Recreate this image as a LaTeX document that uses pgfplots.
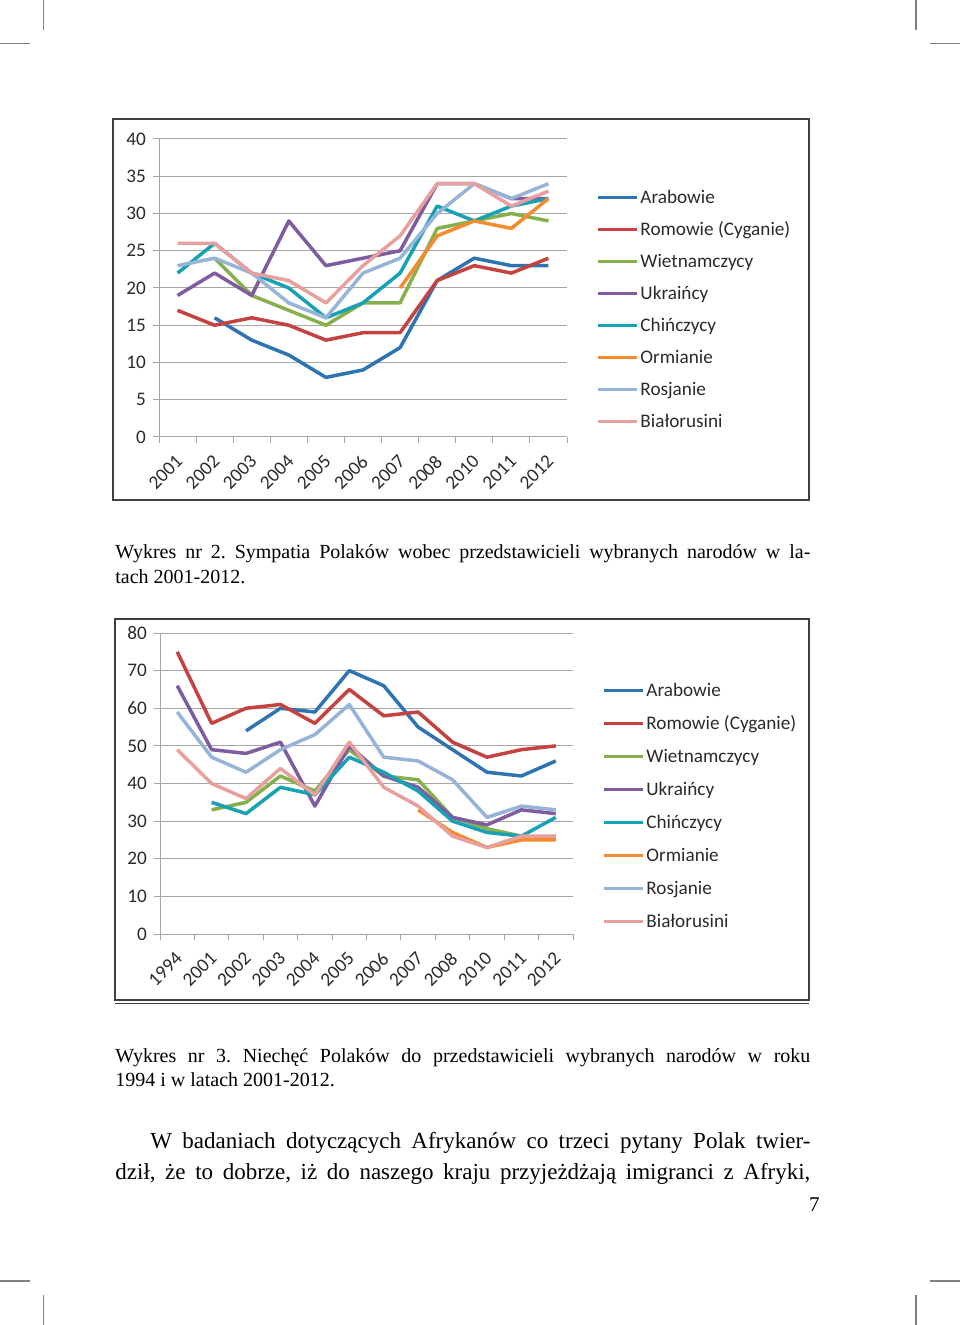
\documentclass[border=0pt]{standalone}
\usepackage{fontspec}
\setmainfont{Liberation Serif}
\newfontfamily\chartfont{Carlito}
\usepackage{pgfplots}
\pgfplotsset{compat=1.18}
\definecolor{cArab}{HTML}{2E74B2}
\definecolor{cRom}{HTML}{C4423F}
\definecolor{cWiet}{HTML}{86B04B}
\definecolor{cUkr}{HTML}{7F5B9F}
\definecolor{cChin}{HTML}{18A0B4}
\definecolor{cOrm}{HTML}{F48B2F}
\definecolor{cRos}{HTML}{95B4D8}
\definecolor{cBial}{HTML}{E8A09E}
\definecolor{gridgray}{HTML}{A6A6A6}
\definecolor{txt}{HTML}{2A2A2A}
\newcommand{\cf}{\chartfont\fontsize{9.6}{11}\selectfont\color{txt}}
\pgfplotsset{
  mychart/.style={
    scale only axis,
    axis x line*=bottom, axis y line*=left,
    axis line style={draw=gridgray, line width=0.5pt, -},
    tick align=outside, major tick length=3pt,
    tick style={draw=gridgray, line width=0.5pt},
    ymajorgrids, grid style={draw=gridgray, line width=0.5pt},
    ymin=0,
    x tick label as interval,
    xticklabel style={xshift=1.7pt, yshift=-7pt, rotate=45, anchor=east, font=\cf, inner sep=1pt},
    yticklabel style={font=\cf},
    /pgf/number format/assume math mode=true,
    every axis plot/.append style={line width=1.75pt, no markers, line join=round},
    legend style={draw=none, fill=none, inner sep=0pt, font=\cf,
      nodes={inner sep=0pt, anchor=west, text height=11pt, text depth=5pt}},
    legend cell align=left,
    legend image code/.code={\draw[##1, line width=1.75pt] (0pt,0pt) -- (19.5pt,0pt); \path (20.3pt,0pt);},
  }
}
\begin{document}
\frenchspacing
\begin{tikzpicture}
\begin{scope}[x=0.5pt,y=-0.5pt]
\useasboundingbox (0,0) rectangle (960,1325);
% crop marks
\draw[gray, line width=0.7pt] (43.5,0) -- (43.5,30) (0,43.5) -- (30,43.5)
  (916,0) -- (916,30) (930,43.5) -- (960,43.5)
  (0,1281) -- (30,1281) (43.5,1295) -- (43.5,1325)
  (916,1295) -- (916,1325) (930,1281) -- (960,1281);
% frames
\draw[line width=1.3pt, black!75] (113,119) rectangle (809,500);
\draw[line width=0.9pt, black!75] (115,619) rectangle (809,1000);
\draw[line width=0.6pt, black!75] (115,1003.5) -- (809,1003.5);
% captions
\node[anchor=base west, inner sep=0pt] at (115,558) {\fontsize{10}{12}\selectfont\makebox[347.5pt][s]{Wykres nr 2. Sympatia Polaków wobec przedstawicieli wybranych narodów w la-}};
\node[anchor=base west, inner sep=0pt] at (115,583) {\fontsize{10}{12}\selectfont tach 2001-2012.};
\node[anchor=base west, inner sep=0pt] at (115,1062) {\fontsize{10}{12}\selectfont\makebox[347.5pt][s]{Wykres nr 3. Niechęć Polaków do przedstawicieli wybranych narodów w roku}};
\node[anchor=base west, inner sep=0pt] at (115,1086) {\fontsize{10}{12}\selectfont 1994 i w latach 2001-2012.};
\node[anchor=base west, inner sep=0pt] at (150,1148) {\fontsize{11.5}{14}\selectfont\makebox[330pt][s]{W badaniach dotyczących Afrykanów co trzeci pytany Polak twier-}};
\node[anchor=base west, inner sep=0pt] at (115,1179) {\fontsize{11.5}{14}\selectfont\makebox[347.5pt][s]{dził, że to dobrze, iż do naszego kraju przyjeżdżają imigranci z Afryki,}};
\node[anchor=base east, inner sep=0pt] at (820,1211) {\fontsize{10.5}{12}\selectfont 7};
\end{scope}

% chart 1
\begin{axis}[mychart, at={(79.5pt,-218.5pt)}, anchor=south west,
  width=204pt, height=149pt,
  xmin=-0.5, xmax=10.5, ymax=40, ytick={0,5,...,40},
  xtick={-0.5,0.5,...,10.5},
  xticklabels={2001,2002,2003,2004,2005,2006,2007,2008,2010,2011,2012},
  legend style={at={(1.071,0.859)}, anchor=north west}]
\addplot[cArab] coordinates {(1,16)(2,13)(3,11)(4,8)(5,9)(6,12)(7,21)(8,24)(9,23)(10,23)};
\addplot[cRom] coordinates {(0,17)(1,15)(2,16)(3,15)(4,13)(5,14)(6,14)(7,21)(8,23)(9,22)(10,24)};
\addplot[cWiet] coordinates {(1,24)(2,19)(3,17)(4,15)(5,18)(6,18)(7,28)(8,29)(9,30)(10,29)};
\addplot[cUkr] coordinates {(0,19)(1,22)(2,19)(3,29)(4,23)(5,24)(6,25)(7,34)(8,34)(9,32)(10,32)};
\addplot[cChin] coordinates {(0,22)(1,26)(2,22)(3,20)(4,16)(5,18)(6,22)(7,31)(8,29)(9,31)(10,32)};
\addplot[cOrm] coordinates {(6,20)(7,27)(8,29)(9,28)(10,32)};
\addplot[cRos] coordinates {(0,23)(1,24)(2,22)(3,18)(4,16)(5,22)(6,24)(7,30)(8,34)(9,32)(10,34)};
\addplot[cBial] coordinates {(0,26)(1,26)(2,22)(3,21)(4,18)(5,23)(6,27)(7,34)(8,34)(9,31)(10,33)};
\legend{Arabowie,Romowie (Cyganie),Wietnamczycy,Ukraińcy,Chińczycy,Ormianie,Rosjanie,Białorusini}
\end{axis}

% chart 2
\begin{axis}[mychart, at={(80pt,-467pt)}, anchor=south west,
  width=206.5pt, height=150.5pt,
  xmin=-0.5, xmax=11.5, ymax=80, ytick={0,10,...,80},
  xtick={-0.5,0.5,...,11.5},
  xticklabels={1994,2001,2002,2003,2004,2005,2006,2007,2008,2010,2011,2012},
  legend style={at={(1.070,0.865)}, anchor=north west,
    nodes={text height=11.25pt, text depth=5.25pt}}]
\addplot[cArab] coordinates {(2,54)(3,60)(4,59)(5,70)(6,66)(7,55)(8,49)(9,43)(10,42)(11,46)};
\addplot[cRom] coordinates {(0,75)(1,56)(2,60)(3,61)(4,56)(5,65)(6,58)(7,59)(8,51)(9,47)(10,49)(11,50)};
\addplot[cWiet] coordinates {(1,33)(2,35)(3,42)(4,38)(5,49)(6,42)(7,41)(8,31)(9,28)(10,26)};
\addplot[cUkr] coordinates {(0,66)(1,49)(2,48)(3,51)(4,34)(5,50)(6,42)(7,39)(8,31)(9,29)(10,33)(11,32)};
\addplot[cChin] coordinates {(1,35)(2,32)(3,39)(4,37)(5,47)(6,43)(7,38)(8,30)(9,27)(10,26)(11,31)};
\addplot[cOrm] coordinates {(7,33)(8,27)(9,23)(10,25)(11,25)};
\addplot[cRos] coordinates {(0,59)(1,47)(2,43)(3,49)(4,53)(5,61)(6,47)(7,46)(8,41)(9,31)(10,34)(11,33)};
\addplot[cBial] coordinates {(0,49)(1,40)(2,36)(3,44)(4,37)(5,51)(6,39)(7,34)(8,26)(9,23)(10,26)(11,26)};
\legend{Arabowie,Romowie (Cyganie),Wietnamczycy,Ukraińcy,Chińczycy,Ormianie,Rosjanie,Białorusini}
\end{axis}
\end{tikzpicture}
\end{document}
